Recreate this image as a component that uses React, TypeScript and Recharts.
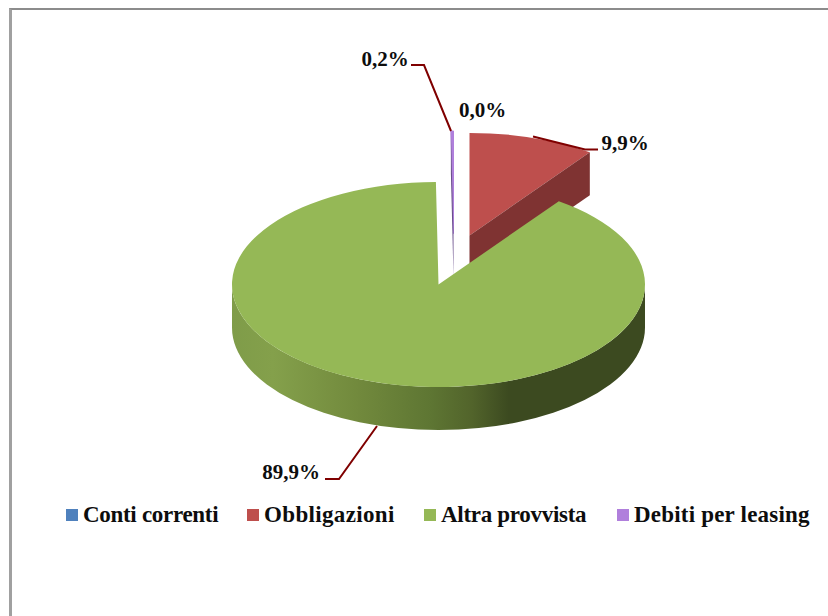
import { PieChart, Pie, Legend } from "recharts";

const categories = ["Conti correnti", "Obbligazioni", "Altra provvista", "Debiti per leasing"];
const shares = [0.0, 9.9, 89.9, 0.2];
const topColors = ["#4f81bd", "#be4f4d", "#95b856", "#b07fdc"];
const wallColors = ["#3a5f8c", "#7f3332", "#3c4a20", "#6a4f8c"];

// exploded slices, offset from the pie centre
const sliceOffsets = [
  { dx: 31, dy: -49 },
  { dx: 31, dy: -49 },
  { dx: 0, dy: 0 },
  { dx: 15, dy: -51 },
];

// leader lines and text spots, relative to the chart
const labelSpots = [
  { x: 482.5, y: 110, line: "" },
  { x: 625, y: 143, line: "M533 136.5L585 149.5L598 149.5" },
  { x: 291, y: 472, line: "M377 426L339 479L325 479" },
  { x: 385, y: 59, line: "M411 65L424 65L451 131" },
];

// legend spacing: slot widths and small tracking fixes for the substitute font
const legendSlots = [181, 177, 193, 192];
const legendTracking = [-0.3, 0.35, -0.3, 0.2];

const CX = 438.5;
const CY = 284.5;
const RX = 206.5;
const TILT = 0.4965;
const DEPTH = 43;
const GREEN = 2;

const data = categories.map((name, i) => ({ name, value: shares[i], fill: topColors[i] }));

function pointOn(cx: number, cy: number, rx: number, ry: number, deg: number) {
  const a = (deg * Math.PI) / 180;
  return [cx + rx * Math.cos(a), cy - ry * Math.sin(a)];
}

function Slice(props: any) {
  const { cx, cy, outerRadius, startAngle, endAngle, index } = props;
  const off = sliceOffsets[index];
  const x0 = cx + off.dx;
  const y0 = cy + off.dy;
  const rx = outerRadius;
  const ry = outerRadius * TILT;
  const p = (deg: number) => pointOn(x0, y0, rx, ry, deg);
  const [sx, sy] = p(startAngle);
  const [ex, ey] = p(endAngle);
  const large = Math.abs(startAngle - endAngle) > 180 ? 1 : 0;
  const top = `M${x0} ${y0}L${sx} ${sy}A${rx} ${ry} 0 ${large} 1 ${ex} ${ey}Z`;

  const from = Math.min(startAngle, 0);
  const to = Math.max(endAngle, -180);
  let side = null;
  if (from > to) {
    const [ax, ay] = p(from);
    const [bx, by] = p(to);
    const d = `M${ax} ${ay}A${rx} ${ry} 0 0 1 ${bx} ${by}L${bx} ${by + DEPTH}A${rx} ${ry} 0 0 0 ${ax} ${ay + DEPTH}Z`;
    side = <path d={d} fill="url(#greenSide)" />;
  }

  const wall = (wx: number, wy: number) =>
    `M${x0} ${y0}L${wx} ${wy}L${wx} ${wy + DEPTH}L${x0} ${y0 + DEPTH}Z`;

  return (
    <g>
      {side}
      <path d={top} fill={topColors[index]} stroke={index === 3 ? topColors[index] : "none"} strokeWidth={1} />
      {index !== GREEN && <path d={wall(sx, sy)} fill={wallColors[index]} />}
      {index !== GREEN && <path d={wall(ex, ey)} fill={wallColors[index]} />}
    </g>
  );
}

function backShape(props: any) {
  return props.index === GREEN ? <g /> : <Slice {...props} />;
}

function frontShape(props: any) {
  return props.index === GREEN ? <Slice {...props} /> : <g />;
}

function renderLabel(props: any) {
  const spot = labelSpots[props.index];
  const text = shares[props.index].toFixed(1).replace(".", ",") + "%";
  return (
    <g>
      {spot.line && <path d={spot.line} fill="none" stroke="#7f0000" strokeWidth={2} />}
      <text
        x={spot.x}
        y={spot.y}
        textAnchor="middle"
        dominantBaseline="central"
        fontFamily="Liberation Serif"
        fontWeight="bold"
        fontSize={21}
        fill="#0d0d0d"
      >
        {text}
      </text>
    </g>
  );
}

function renderLegend() {
  return (
    <div style={{ display: "flex", fontFamily: "Liberation Serif", fontWeight: "bold", fontSize: 23, color: "#0d0d0d" }}>
      {data.map((d, i) => (
        <div key={d.name} style={{ display: "flex", alignItems: "center", gap: 5, whiteSpace: "nowrap", width: legendSlots[i] }}>
          <span style={{ width: 12, height: 12, background: d.fill, display: "inline-block", flex: "none" }} />
          <span style={{ letterSpacing: legendTracking[i] }}>{d.name}</span>
        </div>
      ))}
    </div>
  );
}

export default function App() {
  return (
    <div style={{ position: "absolute", left: 0, top: 0, width: 828, height: 616, overflow: "hidden", background: "#fff" }}>
      <div
        style={{
          position: "absolute",
          left: 9,
          top: 8,
          width: 830,
          height: 620,
          borderTop: "2px solid #8c8c8c",
          borderLeft: "3px solid #a0a0a0",
        }}
      />
      <PieChart
        width={828}
        height={616}
        margin={{ top: 0, right: 0, bottom: 0, left: 0 }}
        style={{ position: "absolute", left: 0, top: 0 }}
      >
        <defs>
          <linearGradient id="greenSide" gradientUnits="userSpaceOnUse" x1={232} y1={0} x2={645} y2={0}>
            <stop offset="0" stopColor="#7f9c49" />
            <stop offset="0.1" stopColor="#84a04b" />
            <stop offset="0.3" stopColor="#728a3d" />
            <stop offset="0.48" stopColor="#5e7633" />
            <stop offset="0.58" stopColor="#52642b" />
            <stop offset="0.67" stopColor="#3c4a20" />
            <stop offset="1" stopColor="#3c4a20" />
          </linearGradient>
        </defs>
        <Pie
          data={data}
          dataKey="value"
          nameKey="name"
          cx={CX}
          cy={CY}
          outerRadius={RX}
          startAngle={90}
          endAngle={-270}
          stroke="none"
          shape={backShape}
          isAnimationActive={false}
        />
        <Pie
          data={data}
          dataKey="value"
          nameKey="name"
          cx={CX}
          cy={CY}
          outerRadius={RX}
          startAngle={90}
          endAngle={-270}
          stroke="none"
          shape={frontShape}
          legendType="none"
          isAnimationActive={false}
        />
        <Pie
          data={data}
          dataKey="value"
          nameKey="name"
          cx={CX}
          cy={CY}
          outerRadius={RX}
          startAngle={90}
          endAngle={-270}
          stroke="none"
          shape={() => <g />}
          legendType="none"
          label={renderLabel}
          labelLine={false}
          isAnimationActive={false}
        />
        <Legend content={renderLegend} wrapperStyle={{ position: "absolute", left: 66, top: 502, width: "auto" }} />
      </PieChart>
    </div>
  );
}
